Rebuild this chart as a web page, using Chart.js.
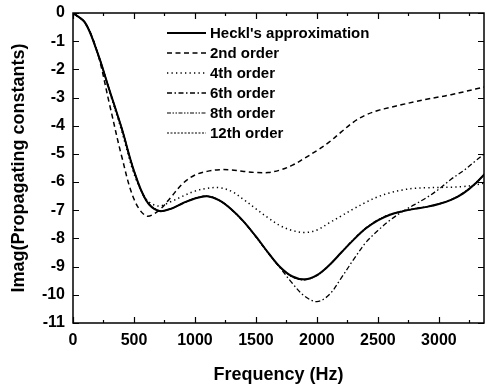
<!DOCTYPE html>
<html>
<head>
<meta charset="utf-8">
<script src="https://cdn.jsdelivr.net/npm/chart.js@4.4.1/dist/chart.umd.min.js"></script>
<style>
  html, body { margin: 0; padding: 0; background: #fff; }
  canvas { display: block; }
</style>
</head>
<body>
<canvas id="chart" width="489" height="386"></canvas>
<script>
// frequency grid (Hz)
const freqs = [0, 100, 200, 300, 400, 500, 600, 700, 800, 900, 1000, 1100, 1200, 1300, 1400, 1500, 1600,
  1700, 1800, 1900, 2000, 2100, 2200, 2300, 2400, 2500, 2600, 2700, 2800, 2900, 3000, 3100, 3200, 3300, 3400];

const heckl = [0, -0.35, -1.4, -2.75, -4.1, -5.6, -6.65, -7.02, -6.95, -6.75, -6.58, -6.5, -6.65, -6.97,
  -7.4, -7.93, -8.5, -9.02, -9.35, -9.45, -9.3, -8.95, -8.5, -8.05, -7.65, -7.36, -7.16, -7.04, -6.95,
  -6.88, -6.78, -6.63, -6.4, -6.05, -5.6];
const order2 = [0, -0.35, -1.4, -3.25, -5.1, -6.6, -7.2, -7.02, -6.55, -6.05, -5.75, -5.62, -5.56, -5.57,
  -5.62, -5.66, -5.66, -5.57, -5.4, -5.15, -4.88, -4.58, -4.22, -3.87, -3.62, -3.46, -3.35, -3.25, -3.15,
  -3.06, -2.98, -2.9, -2.8, -2.7, -2.6];
const order4 = [0, -0.35, -1.4, -2.8, -4.2, -5.7, -6.6, -6.85, -6.7, -6.5, -6.32, -6.22, -6.2, -6.33,
  -6.62, -6.95, -7.27, -7.55, -7.72, -7.79, -7.7, -7.45, -7.2, -6.95, -6.72, -6.52, -6.38, -6.28, -6.22,
  -6.2, -6.19, -6.18, -6.16, -6.1, -6.0];
const order6 = [0, -0.35, -1.4, -2.75, -4.1, -5.6, -6.65, -7.02, -6.95, -6.75, -6.58, -6.5, -6.65, -6.97,
  -7.4, -7.93, -8.5, -9.05, -9.6, -10.05, -10.24, -10.0, -9.4, -8.75, -8.15, -7.72, -7.35, -7.05, -6.8,
  -6.55, -6.25, -5.9, -5.6, -5.25, -4.9];
const order8 = [0, -0.35, -1.4, -2.76, -4.1, -5.6, -6.64, -7.0, -6.95, -6.75, -6.58, -6.5, -6.65, -6.98,
  -7.42, -7.95, -8.52, -9.04, -9.37, -9.47, -9.32, -8.96, -8.49, -8.03, -7.63, -7.34, -7.14, -7.03, -6.94,
  -6.87, -6.77, -6.62, -6.38, -6.03, -5.6];
const order12 = [0, -0.35, -1.4, -2.75, -4.1, -5.6, -6.65, -7.02, -6.95, -6.75, -6.58, -6.5, -6.65, -6.97,
  -7.41, -7.94, -8.51, -9.03, -9.36, -9.46, -9.31, -8.95, -8.5, -8.05, -7.65, -7.35, -7.15, -7.04, -6.95,
  -6.88, -6.78, -6.63, -6.4, -6.05, -5.6];

const seriesNames = ["Heckl's approximation", '2nd order', '4th order', '6th order', '8th order', '12th order'];
const xTicks = [0, 500, 1000, 1500, 2000, 2500, 3000];
const yTicks = [0, -1, -2, -3, -4, -5, -6, -7, -8, -9, -10, -11];

const FONT = "'Liberation Sans', Arial, sans-serif";

function line(label, values, dash, width) {
  return {
    label: label,
    data: freqs.map((f, i) => ({ x: f, y: values[i] })),
    borderColor: '#000',
    borderWidth: width,
    borderDash: dash,
    pointRadius: 0,
    fill: false,
    tension: 0.35
  };
}

// frame with inward ticks on all four sides
const framePlugin = {
  id: 'frame',
  afterDraw(chart) {
    const { ctx, chartArea: a, scales: { x, y } } = chart;
    ctx.save();
    ctx.strokeStyle = '#000';
    ctx.lineWidth = 1.5;
    ctx.strokeRect(a.left, a.top, a.right - a.left, a.bottom - a.top);
    ctx.lineWidth = 1.2;
    ctx.beginPath();
    for (let v = 0; v <= x.max; v += 250) {
      const px = Math.round(x.getPixelForValue(v)) + 0.5;
      const len = v % 500 === 0 ? 6 : 3;
      ctx.moveTo(px, a.bottom); ctx.lineTo(px, a.bottom - len);
      ctx.moveTo(px, a.top); ctx.lineTo(px, a.top + len);
    }
    for (const v of yTicks) {
      const py = Math.round(y.getPixelForValue(v)) + 0.5;
      ctx.moveTo(a.left, py); ctx.lineTo(a.left + 6, py);
      ctx.moveTo(a.right, py); ctx.lineTo(a.right - 6, py);
    }
    ctx.stroke();
    ctx.restore();
  }
};

// legend inside the plot, top right
const legendPlugin = {
  id: 'insideLegend',
  afterDatasetsDraw(chart) {
    const { ctx } = chart;
    ctx.save();
    ctx.font = 'bold 15px ' + FONT;
    ctx.fillStyle = '#000';
    ctx.textBaseline = 'middle';
    chart.data.datasets.forEach((ds, i) => {
      const yy = 33 + i * 20;
      ctx.strokeStyle = '#000';
      ctx.lineWidth = ds.borderWidth;
      ctx.setLineDash(ds.borderDash || []);
      ctx.beginPath();
      ctx.moveTo(167, yy);
      ctx.lineTo(206, yy);
      ctx.stroke();
      ctx.setLineDash([]);
      ctx.fillText(ds.label, 210, yy + 1);
    });
    ctx.restore();
  }
};

new Chart(document.getElementById('chart'), {
  type: 'line',
  data: {
    datasets: [
      line(seriesNames[0], heckl, [], 2),
      line(seriesNames[1], order2, [5, 3.5], 1.5),
      line(seriesNames[2], order4, [1.3, 3.2], 1.5),
      line(seriesNames[3], order6, [5, 2.5, 1.5, 2.5], 1.3),
      line(seriesNames[4], order8, [4, 1.5, 1.5, 1.5, 1.5, 1.5], 1.2),
      line(seriesNames[5], order12, [2, 1.5], 1.2)
    ]
  },
  options: {
    responsive: false,
    animation: false,
    devicePixelRatio: 1,
    layout: { padding: { top: 13, right: 5, left: 0, bottom: 0 } },
    plugins: {
      legend: { display: false },
      tooltip: { enabled: false }
    },
    scales: {
      x: {
        type: 'linear',
        min: 0,
        max: 3370,
        grid: { display: false, drawTicks: false },
        border: { display: false },
        afterBuildTicks: (s) => { s.ticks = xTicks.map(v => ({ value: v })); },
        afterFit: (s) => { s.height = 63; s.paddingLeft = 0; s.paddingRight = 0; },
        ticks: {
          color: '#000', padding: 8,
          font: { family: FONT, size: 16, weight: 'bold' },
          callback: (v) => String(v)
        },
        title: {
          display: true,
          text: 'Frequency (Hz)',
          color: '#000',
          padding: { top: 6, bottom: 0 },
          font: { family: FONT, size: 18, weight: 'bold' }
        }
      },
      y: {
        type: 'linear',
        min: -11,
        max: 0,
        grid: { display: false, drawTicks: false },
        border: { display: false },
        afterBuildTicks: (s) => { s.ticks = yTicks.map(v => ({ value: v })); },
        afterFit: (s) => { s.width = 73; s.paddingTop = 0; s.paddingBottom = 0; },
        ticks: {
          color: '#000', padding: 8,
          font: { family: FONT, size: 16, weight: 'bold' },
          callback: (v) => String(v)
        },
        title: {
          display: true,
          text: 'Imag(Propagating constants)',
          color: '#000',
          padding: { top: 8, bottom: 0 },
          font: { family: FONT, size: 18, weight: 'bold' }
        }
      }
    }
  },
  plugins: [framePlugin, legendPlugin]
});
</script>
</body>
</html>
